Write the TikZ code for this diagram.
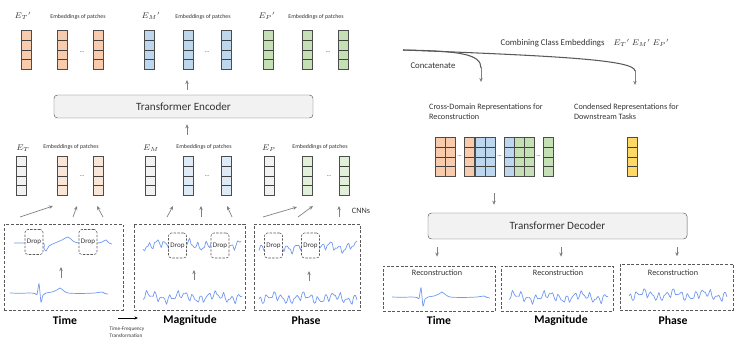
\documentclass[tikz,border=0pt]{standalone}
\usepackage{fontspec}
\setmainfont{Carlito}
\usepackage{xcolor}
\usetikzlibrary{arrows.meta,calc}

\definecolor{patchT}{HTML}{F8CBAD}
\definecolor{patchM}{HTML}{BDD7EE}
\definecolor{patchP}{HTML}{C5E0B4}
\definecolor{lightT}{HTML}{FBE5D6}
\definecolor{lightM}{HTML}{DEEBF7}
\definecolor{lightP}{HTML}{E2F0D9}
\definecolor{patchC}{HTML}{FFD966}
\definecolor{patchG}{HTML}{F2F2F2}
\definecolor{sigblue}{HTML}{7098F0}
\definecolor{arrgray}{HTML}{808080}
\definecolor{boxline}{HTML}{595959}

\begin{document}
\begin{tikzpicture}[x=0.03cm, y=-0.03cm,
    every node/.style={font=\fontsize{7}{8.5}\selectfont, text=black!80},
    patch/.style={draw=black!70, line width=0.5pt, minimum width=0.3cm, minimum height=1.17cm, inner sep=0pt,
      path picture={\foreach \k in {1,2,3}
        \draw[black!75, line width=0.5pt] ($(path picture bounding box.north west)!\k/4!(path picture bounding box.south west)$)
          -- ($(path picture bounding box.north east)!\k/4!(path picture bounding box.south east)$);}},
    emb/.style={font=\fontsize{5}{6}\selectfont},
    mathlab/.style={font=\fontsize{7.5}{9}\selectfont},
    coder/.style={draw=boxline, rounded corners=3pt, fill=patchG, minimum width=7.77cm, font=\fontsize{9.5}{11}\selectfont},
    domainbox/.style={draw=boxline, dash pattern=on 2.5pt off 1.5pt, line width=0.6pt, inner sep=0pt},
    dropbox/.style={draw=boxline, dash pattern=on 2pt off 1.2pt, line width=0.5pt, rounded corners=2.5pt, fill=white,
      minimum width=0.54cm, minimum height=0.75cm, inner sep=0pt, font=\fontsize{6}{7}\selectfont},
    domlab/.style={font=\fontsize{10}{12}\selectfont\bfseries, text=black},
    sig/.style={sigblue, line width=0.6pt},
    arr/.style={-{Stealth[length=3.5pt, width=3pt]}, arrgray, line width=0.6pt}]
    \useasboundingbox (0,0) rectangle (739,348);

    % Class embeddings after the encoder
    \foreach \x/\c [count=\i] in {26/patchT, 62.5/patchT, 98/patchT, 149/patchM, 188/patchM, 226/patchM, 268/patchP, 307/patchP, 343/patchP}
        \node[patch, fill=\c] (out\i) at (\x,50) {};
    \node[mathlab] (outTl) at (23,16) {$E_T{}'$};
    \node[mathlab] (outMl) at (151,16) {$E_M{}'$};
    \node[mathlab] (outPl) at (267,16) {$E_P{}'$};
    \node[emb] (outTe) at (78,17) {Embeddings of patches};
    \node[emb] (outMe) at (203,17) {Embeddings of patches};
    \node[emb] (outPe) at (316,17) {Embeddings of patches};
    \foreach \x [count=\i] in {82,207,328}
        \node[emb] (outdots\i) at (\x,52) {...};

    % Encoder
    \node[coder, minimum height=0.69cm] (enc) at (183.5,106.5) {Transformer Encoder};
    \coordinate (encin) at (187,135);
    \coordinate (encout) at (187,80);
    \draw[arr, shorten >=0.18cm] (encin) -- (encin |- enc.south);
    \draw[arr, shorten <=0.15cm] (enc.north -| encout) -- (encout);

    % Patch embeddings from the CNNs
    \foreach \x/\c [count=\i] in {21/patchG, 62.5/lightT, 98.5/lightT, 150/patchG, 188.5/lightM, 226/lightM, 269/patchG, 307/lightP, 344/lightP}
        \node[patch, fill=\c] (in\i) at (\x,176) {};
    \node[mathlab] (inTl) at (23,148) {$E_T$};
    \node[mathlab] (inMl) at (151,148) {$E_M$};
    \node[mathlab] (inPl) at (269,148) {$E_P$};
    \node[emb] (inTe) at (71,147) {Embeddings of patches};
    \node[emb] (inMe) at (204,147) {Embeddings of patches};
    \node[emb] (inPe) at (320,147) {Embeddings of patches};
    \foreach \x [count=\i] in {82,207,329}
        \node[emb] (indots\i) at (\x,176) {...};

    % CNN arrows
    \foreach \ax/\ay/\bx/\by [count=\i] in {20/217/53/206, 73/217/77/206, 103/217/97/206, 167/217/173/206, 201/217/201/206,
        232/217/227/206, 263/217/297/207, 298/217/313/206, 339/217/339/206} {
        \coordinate (cnnA\i) at (\ax,\ay);
        \coordinate (cnnB\i) at (\bx,\by);
        \draw[arr] (cnnA\i) -- (cnnB\i);
    }
    \node (cnns) at (361,211) {CNNs};

    % Input domains
    \node[domainbox, minimum width=3.57cm, minimum height=2.58cm] (tbox) at (63.5,267) {};
    \node[domainbox, minimum width=3.33cm, minimum height=2.58cm] (mbox) at (189.5,267) {};
    \node[domainbox, minimum width=3.18cm, minimum height=2.58cm] (pbox) at (307,267) {};

    \draw[sig] plot[smooth] coordinates {(14,243) (25,243) (43,243) (44,248) (46,251) (49,246) (55,243) (62,240) (68,237)
        (73,241) (79,243) (97,243) (102,242) (106,240) (109,243) (112,244)};
    \draw[sig, shift={(10,293)}] plot[smooth, tension=0.4] coordinates {(0,0) (10,0.3) (20,0) (25,0.5) (27,1.5) (29,-9)
        (31,9) (33,2) (36,0) (42,-1) (47,-3) (50,-5) (54,-2) (58,0) (70,0.5) (85,0) (92,-1) (95,0.5) (98,1)};
    \draw[sig, shift={(143,245)}] plot[smooth, domain=0:98, samples=60] (\x, {3*sin(44*\x+20)+1.8*sin(83*\x+40)+2.5*sin(13*\x+60)});
    \draw[sig, shift={(143,297)}] plot[smooth, domain=0:99, samples=60] (\x, {3*sin(47*\x+80)+1.8*sin(79*\x+10)+2.5*sin(11*\x+200)});
    \draw[sig, shift={(259,247)}] plot[smooth, domain=0:98, samples=60] (\x, {3*sin(42*\x+150)+1.8*sin(87*\x+70)+2.5*sin(14*\x+10)});
    \draw[sig, shift={(259,298)}] plot[smooth, domain=0:98, samples=60] (\x, {3*sin(49*\x+250)+1.8*sin(77*\x+130)+2.5*sin(12*\x+90)});

    \node[dropbox] (td1) at (34,242) {Drop};
    \node[dropbox] (td2) at (88,242) {Drop};
    \node[dropbox] (md1) at (177.5,245.5) {Drop};
    \node[dropbox] (md2) at (220,245.5) {Drop};
    \node[dropbox] (pd1) at (273.5,245.5) {Drop};
    \node[dropbox] (pd2) at (310.5,245.5) {Drop};

    \coordinate (tupA) at (61,278);  \coordinate (tupB) at (61,267);
    \coordinate (mupA) at (194,280); \coordinate (mupB) at (194,270);
    \coordinate (pupA) at (309,281); \coordinate (pupB) at (309,271);
    \draw[arr] (tupA) -- (tupB);
    \draw[arr] (mupA) -- (mupB);
    \draw[arr] (pupA) -- (pupB);

    \node[domlab] (tlab) at (65,320) {Time};
    \node[domlab] (mlab) at (190,320) {Magnitude};
    \node[domlab] (plab) at (306,320) {Phase};
    \coordinate (tfA) at (118,318);
    \coordinate (tfB) at (138,318);
    \draw[-{Stealth[length=3pt, width=2.5pt]}, black, line width=0.6pt] (tfA) -- (tfB);
    \node[font=\fontsize{4.5}{6}\selectfont, align=left] (tflab) at (127,332) {Time-Frequency\\Transformation};

    % Combining and concatenating
    \coordinate (split) at (403,50);
    \coordinate (cat) at (481,82);
    \coordinate (cls) at (635,85);
    \draw[boxline, line width=0.9pt] (split) .. controls (460,51) and (481,54) .. (481,68);
    \draw[boxline, line width=0.9pt] (split) .. controls (560,56) and (635,60) .. (635,71);
    \draw[arr] (481,67) -- (cat);
    \draw[arr] (635,70) -- (cls);
    \node[font=\fontsize{7.5}{9}\selectfont] (comb) at (585,43) {Combining Class Embeddings\quad $E_T{}'\ E_M{}'\ E_P{}'$};
    \node[font=\fontsize{7.5}{9}\selectfont] (concat) at (433,66) {Concatenate};
    \node[anchor=west, align=left] (crossl) at (425,112) {Cross-Domain Representations for\\Reconstruction};
    \node[anchor=west, align=left] (condl) at (570,112) {Condensed Representations for\\Downstream Tasks};

    % Cross-domain and condensed representations
    \foreach \x/\c [count=\i] in {440/patchT, 450/patchT, 469.5/patchT, 480/patchM, 490/patchM, 509/patchM, 519/patchP, 529/patchP, 548/patchP, 632/patchC}
        \node[patch, fill=\c] (rep\i) at (\x,157) {};
    \foreach \x [count=\i] in {459.5,499.5,538.5}
        \node[emb] (repdots\i) at (\x,156) {...};

    % Decoder
    \node[coder, minimum height=0.78cm] (dec) at (557.5,226) {Transformer Decoder};
    \coordinate (decin) at (494,193);
    \draw[arr, shorten >=0.24cm] (decin) -- (decin |- dec.north);

    % Reconstructions
    \node[domainbox, minimum width=3.36cm, minimum height=1.35cm] (trec) at (439,288.5) {};
    \node[domainbox, minimum width=3.36cm, minimum height=1.35cm] (mrec) at (557,288.5) {};
    \node[domainbox, minimum width=3.39cm, minimum height=1.38cm] (prec) at (676.5,287) {};
    \draw[arr, shorten <=0.24cm, shorten >=0.27cm] (dec.south -| 437,0) -- (trec.north -| 437,0);
    \draw[arr, shorten <=0.24cm, shorten >=0.27cm] (dec.south -| 561,0) -- (mrec.north -| 561,0);
    \draw[arr, shorten <=0.24cm, shorten >=0.22cm] (dec.south -| 677,0) -- (prec.north -| 677,0);
    \node (treclab) at (437,273) {Reconstruction};
    \node (mreclab) at (558,273) {Reconstruction};
    \node (preclab) at (673,273) {Reconstruction};

    \draw[sig, shift={(392,297)}] plot[smooth, tension=0.4] coordinates {(0,0) (10,0.3) (20,0) (25,0.5) (27,1.5) (29,-9)
        (31,9) (33,2) (36,0) (42,-1) (47,-3) (50,-5) (54,-2) (58,0) (70,0.5) (85,0) (92,-1) (95,0.5) (98,1)};
    \draw[sig, shift={(509,297)}] plot[smooth, domain=0:99, samples=60] (\x, {3*sin(47*\x+80)+1.8*sin(79*\x+10)+2.5*sin(11*\x+200)});
    \draw[sig, shift={(629,295)}] plot[smooth, domain=0:98, samples=60] (\x, {3*sin(49*\x+250)+1.8*sin(77*\x+130)+2.5*sin(12*\x+90)});

    \node[domlab] (treclab2) at (439,320) {Time};
    \node[domlab] (mreclab2) at (561,320) {Magnitude};
    \node[domlab] (preclab2) at (673,320) {Phase};
\end{tikzpicture}
\end{document}
